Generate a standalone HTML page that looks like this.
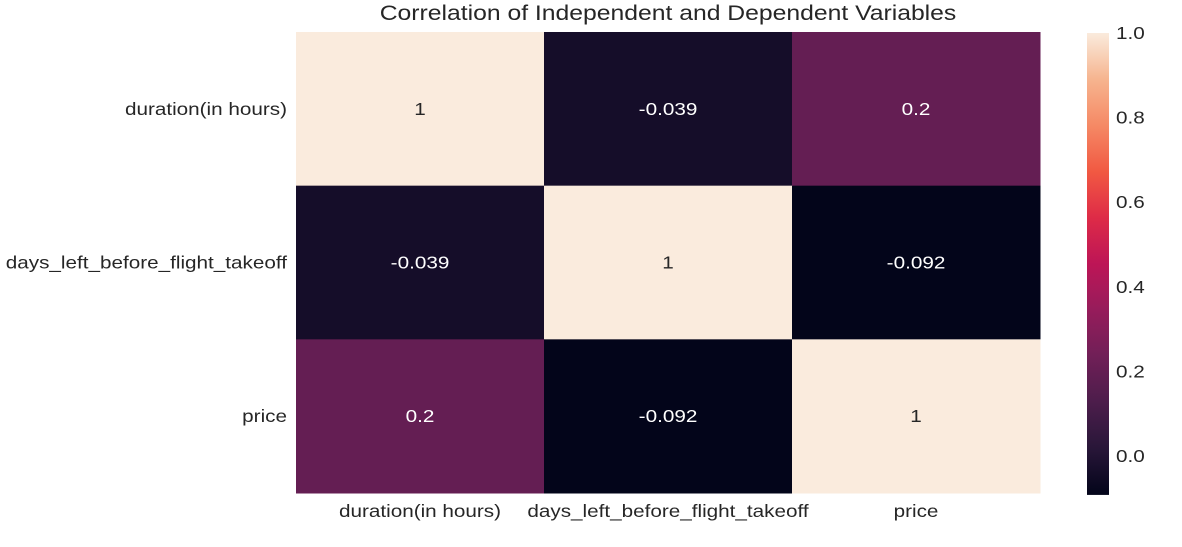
<!DOCTYPE html>
<html><head><meta charset="utf-8"><style>
body{margin:0;background:#fff;}
svg{display:block;font-family:"Liberation Sans",sans-serif;}
</style></head><body>
<svg id="c" width="1182" height="547"></svg>
<script>
const categories=["duration(in hours)","days_left_before_flight_takeoff","price"];
const row0=[1,-0.039,0.2];
const row1=[-0.039,1,-0.092];
const row2=[0.2,-0.092,1];
const rowLabels=["1","-0.039","0.2","-0.039","1","-0.092","0.2","-0.092","1"];
const cbTicks=[0,0.2,0.4,0.6,0.8,1.0];
const cbTickLabels=["0.0","0.2","0.4","0.6","0.8","1.0"];
const vmin=-0.092,vmax=1;
const rows=[row0,row1,row2];
const stops=[[3,5,26],[40,22,56],[76,29,75],[112,31,87],[150,28,91],[189,21,86],[222,43,71],[241,89,66],[245,137,101],[246,180,143],[250,235,221]];
function cmap(v){let t=Math.max(0,Math.min(1,(v-vmin)/(vmax-vmin)))*10;let i=Math.min(9,Math.floor(t)),f=t-i;
const a=stops[i],b=stops[i+1];return `rgb(${a.map((x,k)=>Math.round(x+(b[k]-x)*f)).join(',')})`;}
const L=296,R=1040,T=32,B=493;
const cw=(R-L)/3,ch=(B-T)/3;
const xPos=i=>L+i*cw, yPos=i=>T+i*ch;
const SX=1.15;
const svg=document.getElementById('c');const NS="http://www.w3.org/2000/svg";
function mk(tag,attrs,txt){const e=document.createElementNS(NS,tag);for(const k in attrs)e.setAttribute(k,attrs[k]);if(txt!==undefined)e.textContent=txt;svg.appendChild(e);return e;}
function tx(x,y,anchor,size,fill,s){return mk('text',{x:0,y:0,transform:`translate(${x},${y}) scale(${SX},1)`,'text-anchor':anchor,'font-size':size,fill:fill},s);}
const title=tx(668,20,'middle',21.5,'#262626','Correlation of Independent and Dependent Variables');


rows.forEach((r,i)=>r.forEach((v,j)=>{
 const c=mk('rect',{x:xPos(j),y:yPos(i),width:cw+0.5,height:ch+0.5,fill:cmap(v)});
 
 
 const t=tx(xPos(j)+cw/2,yPos(i)+ch/2+6,'middle',18,v>0.5?'#262626':'#ffffff',rowLabels[i*3+j]);
 
 
}));
categories.forEach((c,i)=>{
 const y=tx(287,yPos(i)+ch/2+6,'end',18,'#262626',c);
 
 
 const x=tx(xPos(i)+cw/2,517,'middle',18,'#262626',c);
 
 
});
const cbL=1087,cbW=22,cbY=v=>456-(v-0)*(456-33);
const defs=mk('defs',{});
const g=document.createElementNS(NS,'linearGradient');g.setAttribute('id','gr');g.setAttribute('x1',0);g.setAttribute('x2',0);g.setAttribute('y1',1);g.setAttribute('y2',0);
for(let k=0;k<=20;k++){const s=document.createElementNS(NS,'stop');s.setAttribute('offset',k/20);s.setAttribute('stop-color',cmap(vmin+(vmax-vmin)*k/20));g.appendChild(s);}
defs.appendChild(g);
const cb=mk('rect',{x:cbL,y:cbY(vmax),width:cbW,height:cbY(vmin)-cbY(vmax),fill:'url(#gr)'});


cbTicks.forEach((v,i)=>{
 const t=tx(1116,cbY(v)+6,'start',18,'#262626',cbTickLabels[i]);
 
 
});
</script>
</body></html>
